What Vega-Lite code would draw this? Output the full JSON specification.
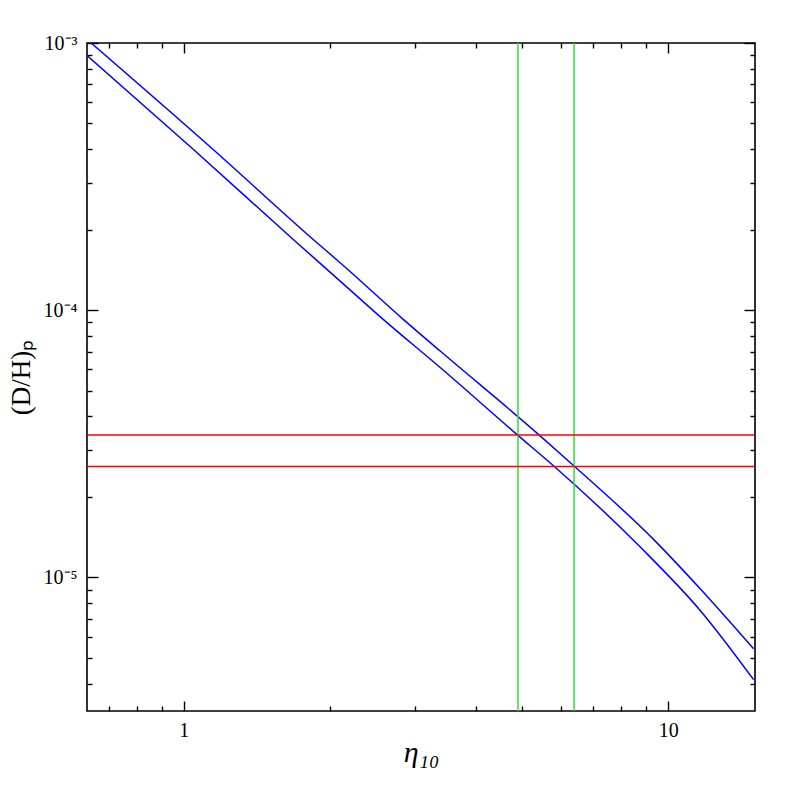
{
  "$schema": "https://vega.github.io/schema/vega-lite/v6.json",
  "width": 668,
  "height": 668,
  "autosize": {"type": "none"},
  "padding": {"left": 87, "top": 43, "right": 42, "bottom": 86},
  "background": "white",
  "config": {
    "view": {"stroke": "#000", "strokeWidth": 1.6},
    "axis": {
      "domain": false,
      "grid": false,
      "tickColor": "#000",
      "tickWidth": 1.4,
      "labelColor": "#000",
      "titleColor": "#000",
      "labelFont": "Liberation Serif",
      "titleFont": "Liberation Serif",
      "labelOverlap": false,
      "labelFlush": false,
      "titleFontWeight": "normal"
    }
  },
  "datasets": {
    "blue": [
      {"curve": "upper", "eta": 0.6435, "dh": 0.001},
      {"curve": "upper", "eta": 1.1495, "dh": 0.0003992},
      {"curve": "upper", "eta": 1.849, "dh": 0.0001839},
      {"curve": "upper", "eta": 2.102, "dh": 0.0001505},
      {"curve": "upper", "eta": 2.837, "dh": 0.0000924},
      {"curve": "upper", "eta": 3.382, "dh": 0.0000703},
      {"curve": "upper", "eta": 5.424, "dh": 0.0000340},
      {"curve": "upper", "eta": 6.407, "dh": 0.0000260},
      {"curve": "upper", "eta": 9.311, "dh": 0.0000139},
      {"curve": "upper", "eta": 11.65, "dh": 0.00000904},
      {"curve": "upper", "eta": 15.0, "dh": 0.0000054},
      {"curve": "lower", "eta": 0.6312, "dh": 0.000897},
      {"curve": "lower", "eta": 1.0467, "dh": 0.0003992},
      {"curve": "lower", "eta": 1.682, "dh": 0.0001839},
      {"curve": "lower", "eta": 2.102, "dh": 0.0001285},
      {"curve": "lower", "eta": 2.579, "dh": 0.0000924},
      {"curve": "lower", "eta": 3.382, "dh": 0.0000610},
      {"curve": "lower", "eta": 4.894, "dh": 0.0000340},
      {"curve": "lower", "eta": 5.817, "dh": 0.0000260},
      {"curve": "lower", "eta": 8.754, "dh": 0.00001298},
      {"curve": "lower", "eta": 11.65, "dh": 0.0000075},
      {"curve": "lower", "eta": 15.0, "dh": 0.00000414}
    ],
    "green": [{"eta": 4.894}, {"eta": 6.39}],
    "red": [{"dh": 0.0000341}, {"dh": 0.0000260}]
  },
  "resolve": {"axis": {"x": "independent", "y": "independent"}},
  "layer": [
    {
      "data": {"name": "blue"},
      "transform": [{"filter": "datum.curve == 'upper'"}],
      "mark": {"type": "line", "color": "#0000ff", "strokeWidth": 1.5, "clip": true, "interpolate": "monotone"},
      "encoding": {
        "x": {
          "field": "eta", "type": "quantitative",
          "scale": {"type": "log", "domain": [0.631, 15.1], "nice": false},
          "axis": {
            "orient": "bottom",
            "values": [1, 10],
            "ticks": false,
            "labelExpr": "datum.value == 1 ? '1' : '10'",
            "labelFontSize": 20,
            "labelPadding": 9,
            "title": "η₁₀",
            "titleFontSize": 30,
            "titleFontStyle": "italic",
            "titlePadding": -3
          }
        },
        "y": {
          "field": "dh", "type": "quantitative",
          "scale": {"type": "log", "domain": [0.00000316, 0.001], "nice": false},
          "axis": {
            "orient": "left",
            "values": [0.00001, 0.0001, 0.001],
            "ticks": false,
            "labelExpr": "datum.value == 0.001 ? '10⁻³' : datum.value == 0.0001 ? '10⁻⁴' : '10⁻⁵'",
            "labelFontSize": 20,
            "labelPadding": 10,
            "title": "(D/H)ₚ",
            "titleFontSize": 27,
            "titlePadding": 8
          }
        }
      }
    },
    {
      "data": {"name": "blue"},
      "transform": [{"filter": "datum.curve == 'lower'"}],
      "mark": {"type": "line", "color": "#0000ff", "strokeWidth": 1.5, "clip": true, "interpolate": "monotone"},
      "encoding": {
        "x": {
          "field": "eta", "type": "quantitative",
          "scale": {"type": "log", "domain": [0.631, 15.1], "nice": false},
          "axis": {
            "orient": "bottom",
            "values": [0.7, 0.8, 0.9, 1, 2, 3, 4, 5, 6, 7, 8, 9, 10],
            "tickSize": {"condition": {"test": "datum.value == 1 || datum.value == 10", "value": -10}, "value": -5},
            "labels": false,
            "title": null
          }
        },
        "y": {
          "field": "dh", "type": "quantitative",
          "scale": {"type": "log", "domain": [0.00000316, 0.001], "nice": false},
          "axis": {
            "orient": "left",
            "values": [0.000004, 0.000005, 0.000006, 0.000007, 0.000008, 0.000009, 0.00001, 0.00002, 0.00003, 0.00004, 0.00005, 0.00006, 0.00007, 0.00008, 0.00009, 0.0001, 0.0002, 0.0003, 0.0004, 0.0005, 0.0006, 0.0007, 0.0008, 0.0009, 0.001],
            "tickSize": {"condition": {"test": "datum.value == 0.001 || datum.value == 0.0001 || datum.value == 0.00001", "value": -11}, "value": -5},
            "labels": false,
            "title": null
          }
        }
      }
    },
    {
      "data": {"name": "green"},
      "mark": {"type": "rule", "color": "#33dd33", "strokeWidth": 1.5},
      "encoding": {
        "x": {
          "field": "eta", "type": "quantitative",
          "scale": {"type": "log", "domain": [0.631, 15.1], "nice": false},
          "axis": {
            "orient": "top",
            "values": [0.7, 0.8, 0.9, 1, 2, 3, 4, 5, 6, 7, 8, 9, 10],
            "tickSize": {"condition": {"test": "datum.value == 1 || datum.value == 10", "value": -10}, "value": -5},
            "labels": false,
            "title": null
          }
        }
      }
    },
    {
      "data": {"name": "red"},
      "mark": {"type": "rule", "color": "#ff0000", "strokeWidth": 1.5},
      "encoding": {
        "y": {
          "field": "dh", "type": "quantitative",
          "scale": {"type": "log", "domain": [0.00000316, 0.001], "nice": false},
          "axis": {
            "orient": "right",
            "values": [0.000004, 0.000005, 0.000006, 0.000007, 0.000008, 0.000009, 0.00001, 0.00002, 0.00003, 0.00004, 0.00005, 0.00006, 0.00007, 0.00008, 0.00009, 0.0001, 0.0002, 0.0003, 0.0004, 0.0005, 0.0006, 0.0007, 0.0008, 0.0009, 0.001],
            "tickSize": {"condition": {"test": "datum.value == 0.001 || datum.value == 0.0001 || datum.value == 0.00001", "value": -11}, "value": -5},
            "labels": false,
            "title": null
          }
        }
      }
    }
  ]
}
